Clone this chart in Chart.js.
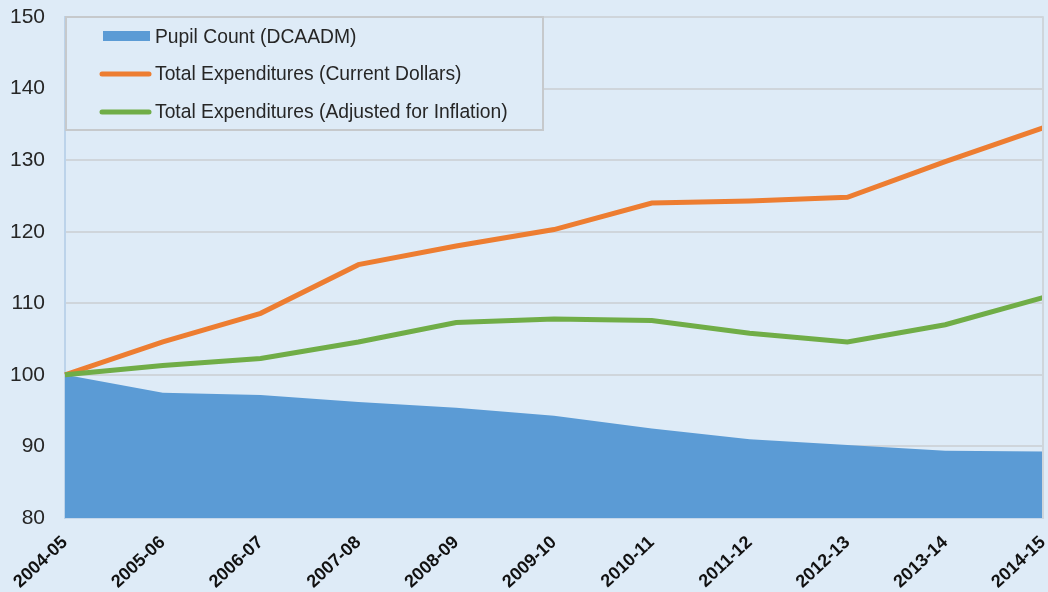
<!DOCTYPE html>
<html><head><meta charset="utf-8">
<script src="https://cdn.jsdelivr.net/npm/chart.js@4"></script>
<style>html,body{margin:0;padding:0;background:#deebf7;}#wrap{width:1048px;height:592px;}</style>
</head><body><div id="wrap"><canvas id="c" width="1048" height="592"></canvas></div>
<script>
const categories = ["2004-05","2005-06","2006-07","2007-08","2008-09","2009-10","2010-11","2011-12","2012-13","2013-14","2014-15"];
const pupilCount = [100, 97.5, 97.2, 96.2, 95.4, 94.3, 92.5, 91.0, 90.2, 89.4, 89.3];
const expCurrent = [100, 104.6, 108.6, 115.4, 118.0, 120.3, 124.0, 124.3, 124.8, 129.8, 134.5];
const expAdjusted = [100, 101.3, 102.3, 104.6, 107.3, 107.8, 107.6, 105.8, 104.6, 107.0, 110.8];
const seriesNames = ["Pupil Count (DCAADM)","Total Expenditures (Current Dollars)","Total Expenditures (Adjusted for Inflation)"];
const yMin = 80, yMax = 150, yStep = 10;

const BG = '#deebf7';
const COLORS = ['#5b9bd5','#ed7d31','#70ad47'];
const FONT = '"Liberation Sans", Arial, sans-serif';

const legendPlugin = {
  id: 'boxLegend',
  afterDraw(chart) {
    const ctx = chart.ctx;
    ctx.save();
    ctx.fillStyle = BG;
    ctx.fillRect(66, 17, 477, 113);
    ctx.strokeStyle = '#c6c9cc';
    ctx.lineWidth = 2;
    ctx.strokeRect(66, 17, 477, 113);
    ctx.font = '19.3px ' + FONT;
    ctx.textBaseline = 'middle';
    const ys = [37, 74, 112];
    ctx.fillStyle = COLORS[0];
    ctx.fillRect(103, 31, 47, 10);
    ctx.lineCap = 'round';
    ctx.lineWidth = 5;
    for (let i = 1; i < 3; i++) {
      ctx.strokeStyle = COLORS[i];
      ctx.beginPath(); ctx.moveTo(102, ys[i]); ctx.lineTo(149, ys[i]); ctx.stroke();
    }
    ctx.fillStyle = '#262626';
    for (let i = 0; i < 3; i++) ctx.fillText(seriesNames[i], 155, ys[i] + 1);
    const ca = chart.chartArea;
    ctx.strokeStyle = '#cfd5db';
    ctx.lineWidth = 2;
    ctx.beginPath(); ctx.moveTo(ca.right, ca.top); ctx.lineTo(ca.right, ca.bottom); ctx.stroke();
    ctx.restore();
  }
};

new Chart(document.getElementById('c'), {
  type: 'line',
  data: {
    labels: categories,
    datasets: [
      { label: seriesNames[0], data: pupilCount, fill: 'origin', backgroundColor: COLORS[0], borderColor: COLORS[0], borderWidth: 0, pointRadius: 0, tension: 0, order: 3 },
      { label: seriesNames[1], data: expCurrent, fill: false, borderColor: COLORS[1], borderWidth: 5, pointRadius: 0, tension: 0, order: 2 },
      { label: seriesNames[2], data: expAdjusted, fill: false, borderColor: COLORS[2], borderWidth: 5, pointRadius: 0, tension: 0, order: 1 }
    ]
  },
  options: {
    responsive: false,
    animation: false,
    layout: { padding: { top: 17, right: 5, left: 0, bottom: 0 } },
    plugins: { legend: { display: false }, tooltip: { enabled: false } },
    scales: {
      x: {
        offset: false,
        grid: { display: false, drawTicks: false },
        border: { display: true, color: '#c6d7ea', width: 1 },
        ticks: { minRotation: 43, maxRotation: 43, padding: 14, color: '#111', font: { family: FONT, size: 18, weight: 'bold' } },
        afterFit(s) { s.height = 74; s.paddingRight = 0; s.paddingLeft = 0; }
      },
      y: {
        min: yMin, max: yMax,
        grid: { color: '#cfd5db', lineWidth: 2, drawTicks: false },
        border: { display: true, color: '#bcd3ea', width: 2 },
        ticks: { stepSize: yStep, padding: 20, color: '#262626', font: { family: FONT, size: 21 } },
        afterFit(s) { s.width = 65; s.paddingTop = 0; s.paddingBottom = 0; }
      }
    }
  },
  plugins: [legendPlugin]
});
</script>
</body></html>
